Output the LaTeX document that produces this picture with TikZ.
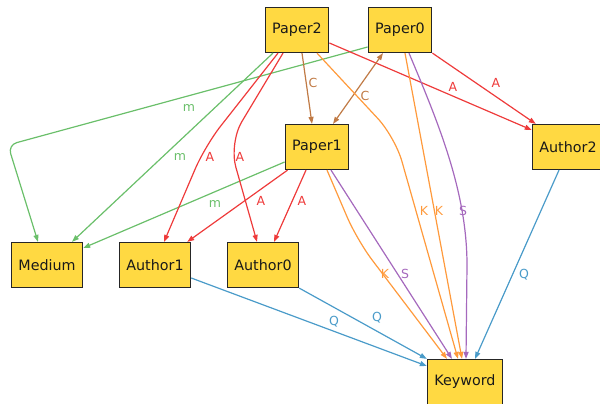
\documentclass[tikz,border=0pt]{standalone}
\usepackage{fontspec}
\setmainfont{DejaVu Sans}
\usetikzlibrary{arrows.meta}
\definecolor{boxfill}{HTML}{FFD942}
\definecolor{cr}{HTML}{EE3B3B}
\definecolor{cg}{HTML}{6ABF6A}
\definecolor{co}{HTML}{FF9A3C}
\definecolor{cp}{HTML}{A569BD}
\definecolor{cb}{HTML}{4A9BC9}
\definecolor{cbr}{HTML}{C07A45}
\begin{document}
\begin{tikzpicture}[x=1pt,y=-1pt,
  box/.style={draw=black!85, line width=1.2pt, fill=boxfill, minimum height=45pt,
    inner xsep=7pt, font=\fontsize{14.3}{16}\selectfont, text=black!90},
  lbl/.style={font=\fontsize{12.5}{14}\selectfont, inner sep=0pt},
  conn/.style={line width=1.2pt, -{Triangle[length=7pt,width=5pt]}},
  conn2/.style={line width=1.2pt, {Triangle[length=7pt,width=5pt]}-{Triangle[length=7pt,width=5pt]}}
]
\useasboundingbox (0,0) rectangle (600,404);
\coordinate (w1) at (8,145);
\coordinate (w2) at (205,146);
\coordinate (w3) at (229,143);
\coordinate (w4) at (357,240);
\coordinate (w5) at (395,137);
\coordinate (c1) at (437,120);
\coordinate (c2) at (467,190);
\coordinate (c3) at (467,265);

\node[box] (P2) at (297,30) {Paper2};
\node[box] (P0) at (400,30) {Paper0};
\node[box] (P1) at (317,147) {Paper1};
\node[box] (A2) at (568,147) {Author2};
\node[box] (Me) at (47,265) {Medium};
\node[box] (A1) at (155,265) {Author1};
\node[box] (A0) at (263,265) {Author0};
\node[box] (K) at (465,382) {Keyword};

% green
\draw[conn,cg] ([xshift=-24pt]P2.south) -- ([xshift=25pt]Me.north);
\draw[conn,cg,rounded corners=9pt] ([yshift=-17pt]P0.west) -- (w1) -- ([xshift=-9pt]Me.north);
\draw[conn,cg] ([yshift=-15pt]P1.west) -- ([yshift=17pt]Me.east);
% red
\draw[conn,cr,rounded corners=25pt] ([xshift=-19pt]P2.south) -- (w2) -- ([xshift=9pt]A1.north);
\draw[conn,cr,rounded corners=25pt] ([xshift=-14pt]P2.south) -- (w3) -- ([xshift=-6pt]A0.north);
\draw[conn,cr] ([xshift=3pt]P1.south west) -- ([xshift=-4pt]A1.north east);
\draw[conn,cr] ([xshift=-11pt]P1.south) -- ([xshift=11pt]A0.north);
\draw[conn,cr] ([yshift=-13pt]P2.east) -- ([yshift=17pt]A2.west);
\draw[conn,cr] (P0.south east) -- ([xshift=4pt]A2.north west);
% brown
\draw[conn,cbr] ([xshift=5pt]P2.south) -- ([xshift=-5pt]P1.north);
\draw[conn2,cbr] ([xshift=-17pt]P0.south) -- ([xshift=16pt]P1.north);
% orange / purple
\draw[conn,co,rounded corners=25pt] ([xshift=10pt]P1.south) -- (w4) -- ([xshift=-18pt]K.north);
\draw[conn,cp] ([xshift=14pt]P1.south) -- ([xshift=-13pt]K.north);
\draw[conn,co,rounded corners=25pt] ([xshift=20pt]P2.south) -- (w5) -- ([xshift=-7pt]K.north);
\draw[conn,co] ([xshift=5pt]P0.south) -- ([xshift=-3pt]K.north);
\draw[conn,cp] ([xshift=9pt]P0.south) .. controls (c1) and (c2) .. (c3) -- ([xshift=1pt]K.north);
% blue
\draw[conn,cb] ([yshift=-13pt]A1.east) -- ([yshift=16pt]K.west);
\draw[conn,cb] (A0.south east) -- (K.north west);
\draw[conn,cb] ([xshift=-9pt]A2.south) -- ([xshift=10pt]K.north);

% labels
\node[lbl,text=cg] (l1) at (189,108) {m};
\node[lbl,text=cg] (l2) at (180,157) {m};
\node[lbl,text=cg] (l3) at (215,204) {m};
\node[lbl,text=cr] (l4) at (210,157) {A};
\node[lbl,text=cr] (l5) at (240,157) {A};
\node[lbl,text=cr] (l6) at (261,201) {A};
\node[lbl,text=cr] (l7) at (302,201) {A};
\node[lbl,text=cr] (l8) at (453,87) {A};
\node[lbl,text=cr] (l9) at (496,83) {A};
\node[lbl,text=cbr] (l10) at (313,83) {C};
\node[lbl,text=cbr] (l11) at (365,96) {C};
\node[lbl,text=co] (l12) at (385,274) {K};
\node[lbl,text=cp] (l13) at (405,274) {S};
\node[lbl,text=co] (l14) at (424,211) {K};
\node[lbl,text=co] (l15) at (439,211) {K};
\node[lbl,text=cp] (l16) at (463,211) {S};
\node[lbl,text=cb] (l17) at (524,275) {Q};
\node[lbl,text=cb] (l18) at (334,322) {Q};
\node[lbl,text=cb] (l19) at (377,318) {Q};
\end{tikzpicture}
\end{document}
